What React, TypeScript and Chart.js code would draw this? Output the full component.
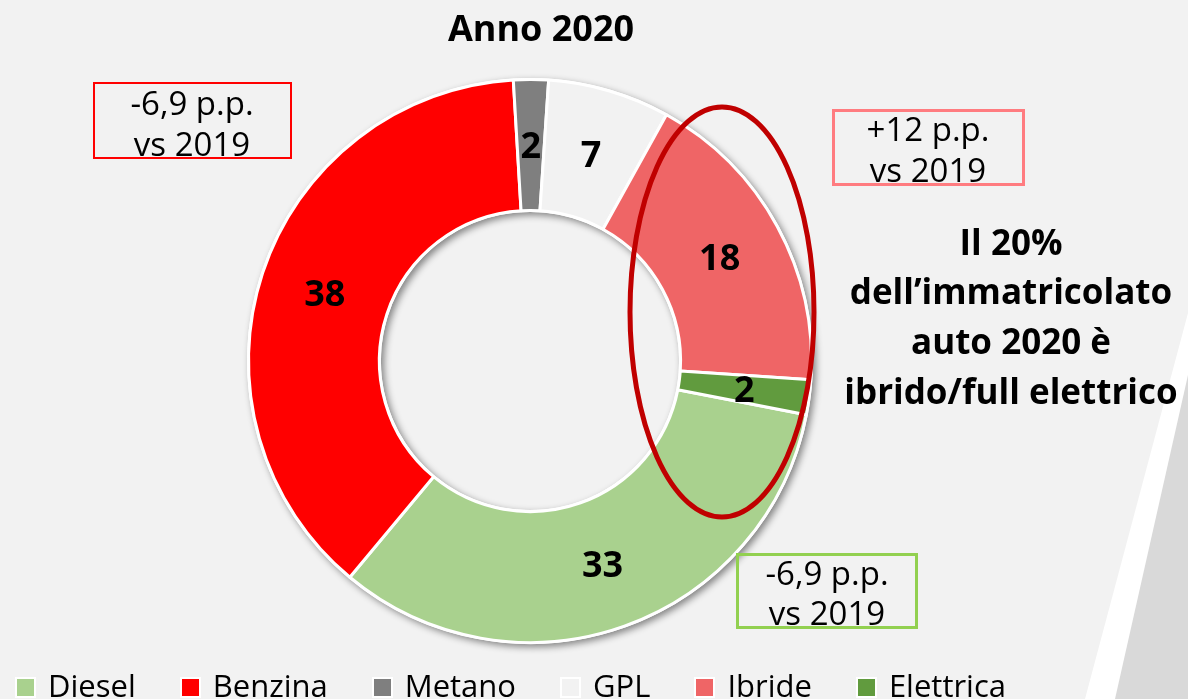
import React, { useEffect, useRef } from "react";
import { Chart, registerables } from "chart.js";

Chart.register(...registerables);

// ---- data ----
const categories = ["Diesel", "Benzina", "Metano", "GPL", "Ibride", "Elettrica"];
const shares = [33, 38, 2, 7, 18, 2];
const sliceColors = ["#a9d18e", "#ff0000", "#7f7f7f", "#f2f2f2", "#ef6566", "#619b3e"];
const chartTitle = "Anno 2020";
const noteBenzina = ["-6,9 p.p.", "vs 2019"];
const noteIbride = ["+12 p.p.", "vs 2019"];
const noteDiesel = ["-6,9 p.p.", "vs 2019"];
const sideText = ["Il 20%", "dell\u2019immatricolato", "auto 2020 è", "ibrido/full elettrico"];

const FONT = "'Open Sans', 'Noto Sans', 'DejaVu Sans', sans-serif";
const ASC = 1.069;
const DESC = 0.293;

function TextBlock(props: {
  cx: number;
  baseline: number;
  size: number;
  lineHeight: number;
  bold?: boolean;
  lines: string[];
  width: number;
}) {
  const { cx, baseline, size, lineHeight, bold, lines, width } = props;
  const top = baseline - ((lineHeight - (ASC + DESC) * size) / 2 + ASC * size);
  return (
    <div
      style={{
        position: "absolute",
        left: cx - width / 2,
        top,
        width,
        textAlign: "center",
        fontFamily: FONT,
        fontSize: size,
        lineHeight: lineHeight + "px",
        fontWeight: bold ? 700 : 400,
        color: "#000",
        whiteSpace: "nowrap",
      }}
    >
      {lines.map((l, i) => (
        <div key={i}>{l}</div>
      ))}
    </div>
  );
}

function Box(props: { left: number; top: number; width: number; height: number; color: string; bw: number }) {
  return (
    <div
      style={{
        position: "absolute",
        left: props.left,
        top: props.top,
        width: props.width,
        height: props.height,
        border: `${props.bw}px solid ${props.color}`,
        boxSizing: "border-box",
      }}
    />
  );
}

const bgPlugin = {
  id: "bgStripe",
  beforeDraw(chart: any) {
    const ctx = chart.ctx;
    ctx.save();
    ctx.fillStyle = "#ffffff";
    ctx.beginPath();
    ctx.moveTo(1188, 313);
    ctx.lineTo(1188, 699);
    ctx.lineTo(1085, 699);
    ctx.closePath();
    ctx.fill();
    ctx.fillStyle = "#d9d9d9";
    ctx.beginPath();
    ctx.moveTo(1188, 375);
    ctx.lineTo(1188, 699);
    ctx.lineTo(1115, 699);
    ctx.closePath();
    ctx.fill();
    ctx.restore();
  },
};

const shadowPlugin = {
  id: "ringShadow",
  beforeDatasetsDraw(chart: any) {
    const arc = chart.getDatasetMeta(0).data[0];
    if (!arc) return;
    const { x, y, innerRadius, outerRadius } = arc.getProps(["x", "y", "innerRadius", "outerRadius"], true);
    const ctx = chart.ctx;
    ctx.save();
    ctx.shadowColor = "rgba(0,0,0,0.45)";
    ctx.shadowBlur = 7;
    ctx.shadowOffsetX = 3;
    ctx.shadowOffsetY = 3;
    ctx.fillStyle = "#ffffff";
    ctx.beginPath();
    ctx.arc(x, y, outerRadius + 1.5, 0, Math.PI * 2);
    ctx.arc(x, y, Math.max(innerRadius - 1.5, 0), 0, Math.PI * 2, true);
    ctx.fill();
    ctx.restore();
  },
};

const labelPlugin = {
  id: "sliceLabels",
  afterDatasetsDraw(chart: any) {
    const ctx = chart.ctx;
    const meta = chart.getDatasetMeta(0);
    const data = chart.data.datasets[0].data as number[];
    const size = 36;
    ctx.save();
    ctx.font = `bold ${size}px ${FONT}`;
    ctx.fillStyle = "#000";
    ctx.textAlign = "center";
    ctx.textBaseline = "alphabetic";
    meta.data.forEach((arc: any, i: number) => {
      const p = arc.getCenterPoint();
      ctx.fillText(String(data[i]), p.x, p.y + 0.357 * size);
    });
    ctx.restore();
  },
};

const ellipsePlugin = {
  id: "highlightEllipse",
  afterDraw(chart: any) {
    const ctx = chart.ctx;
    ctx.save();
    ctx.strokeStyle = "#c00000";
    ctx.lineWidth = 5;
    ctx.beginPath();
    ctx.ellipse(722, 312, 92, 205, 0, 0, Math.PI * 2);
    ctx.stroke();
    ctx.restore();
  },
};

export default function App() {
  const ref = useRef<HTMLCanvasElement>(null);

  useEffect(() => {
    const canvas = ref.current;
    if (!canvas) return;
    const chart = new Chart(canvas, {
      type: "doughnut",
      data: {
        labels: categories,
        datasets: [
          {
            data: shares,
            backgroundColor: sliceColors,
            borderColor: "#ffffff",
            borderWidth: 3,
            hoverOffset: 0,
          },
        ],
      },
      options: {
        responsive: false,
        animation: false,
        events: [],
        rotation: 101,
        cutout: "53.5%",
        layout: { padding: { left: 247, top: 78, right: 1188 - 813, bottom: 699 - 644 } },
        plugins: {
          legend: { display: false },
          title: { display: false },
          tooltip: { enabled: false },
        },
      },
      plugins: [bgPlugin, shadowPlugin, labelPlugin, ellipsePlugin],
    } as any);
    return () => chart.destroy();
  }, []);

  const legendSize = 31;
  const legendBaseline = 698;
  const legendTop = legendBaseline - ((legendSize - (ASC + DESC) * legendSize) / 2 + ASC * legendSize);

  return (
    <div
      style={{
        position: "absolute",
        left: 0,
        top: 0,
        width: 1188,
        height: 699,
        overflow: "hidden",
        background: "#f2f2f2",
        fontFamily: FONT,
      }}
    >
      <canvas ref={ref} width={1188} height={699} style={{ position: "absolute", left: 0, top: 0 }} />

      <TextBlock cx={541} baseline={42} size={36} lineHeight={40} bold lines={[chartTitle]} width={400} />

      <Box left={93} top={82} width={199} height={77} color="#ff0000" bw={2} />
      <TextBlock cx={192} baseline={115} size={33} lineHeight={41} lines={noteBenzina} width={199} />

      <Box left={832} top={109} width={193} height={77} color="#ff7c80" bw={3} />
      <TextBlock cx={928} baseline={141} size={33} lineHeight={41} lines={noteIbride} width={193} />

      <Box left={736} top={553} width={182} height={76} color="#92d050" bw={3} />
      <TextBlock cx={827} baseline={586} size={33} lineHeight={40} lines={noteDiesel} width={182} />

      <TextBlock cx={1011} baseline={255} size={35} lineHeight={49.7} bold lines={sideText} width={360} />

      <div
        style={{
          position: "absolute",
          left: 15,
          top: legendTop,
          display: "flex",
          flexDirection: "row",
          alignItems: "flex-start",
          fontFamily: FONT,
          fontSize: legendSize,
          lineHeight: legendSize + "px",
          color: "#000",
          whiteSpace: "nowrap",
        }}
      >
        {categories.map((c, i) => (
          <div key={c} style={{ display: "flex", alignItems: "flex-start", marginRight: 44 }}>
            <div
              style={{
                width: 17,
                height: 17,
                marginTop: 677 - legendTop,
                marginRight: 12,
                background: sliceColors[i],
                border: "2px solid #ffffff",
              }}
            />
            <span>{c}</span>
          </div>
        ))}
      </div>
    </div>
  );
}
